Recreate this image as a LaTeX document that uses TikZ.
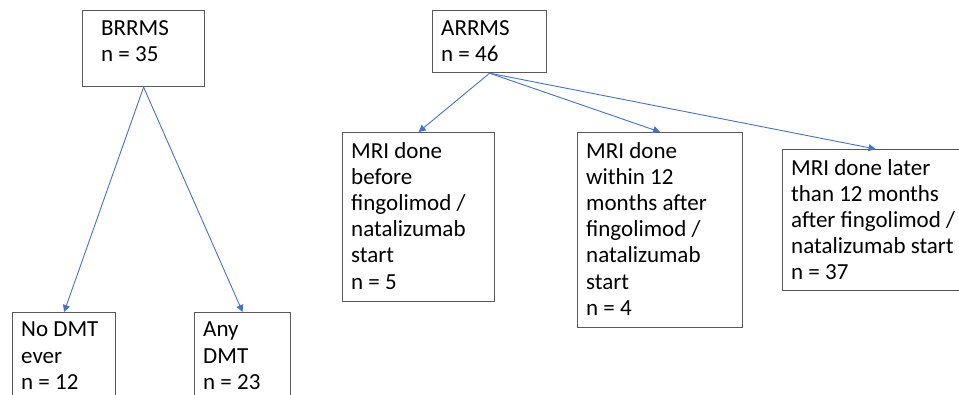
\documentclass[tikz,border=0pt]{standalone}
\usepackage{fontspec}
\setmainfont{Carlito}
\usetikzlibrary{arrows.meta}

\definecolor{arrowblue}{HTML}{4472C4}
\definecolor{boxgray}{HTML}{595959}

\begin{document}
\begin{tikzpicture}[x=1pt, y=-1pt,
		box/.style={draw=boxgray, line width=1.2pt, anchor=north west, inner sep=0pt},
		txt/.style={anchor=north west, align=left, inner xsep=9pt, inner ysep=10pt,
			font=\fontsize{23}{26.2}\selectfont},
		link/.style={draw=arrowblue, line width=0.9pt, -{Triangle[length=7pt, width=7pt]}}]
		\useasboundingbox (0, 0) rectangle (959, 395);

		\node[box, minimum width=122pt, minimum height=76pt,
			label={[txt, inner xsep=19pt]north west:{BRRMS\\n = 35}}] (brrms) at (82, 10) {};
		\node[box, minimum width=103pt, minimum height=100pt,
			label={[txt]north west:{No DMT\\ever\\n = 12}}] (nodmt) at (12, 312) {};
		\node[box, minimum width=96pt, minimum height=100pt,
			label={[txt]north west:{Any\\DMT\\n = 23}}] (anydmt) at (194, 312) {};

		\node[box, minimum width=114pt, minimum height=62pt,
			label={[txt]north west:{ARRMS\\n = 46}}] (arrms) at (432, 10) {};
		\node[box, minimum width=152pt, minimum height=169pt,
			label={[txt]north west:{MRI done\\before\\fingolimod /\\natalizumab\\start\\n = 5}}] (before) at (342, 132) {};
		\node[box, minimum width=165pt, minimum height=195pt,
			label={[txt]north west:{MRI done\\within 12\\months after\\fingolimod /\\natalizumab\\start\\n = 4}}] (within) at (577, 132) {};
		\node[box, minimum width=186pt, minimum height=141pt,
			label={[txt]north west:{MRI done later\\than 12 months\\after fingolimod /\\natalizumab start\\n = 37}}] (later) at (782, 149) {};

		\draw[link] (brrms.south) -- (nodmt.north);
		\draw[link] (brrms.south) -- (anydmt.north);

		\draw[link] (arrms.south) -- (before.north);
		\draw[link] (arrms.south) -- (within.north);
		\draw[link] (arrms.south) -- (later.north);
	\end{tikzpicture}
\end{document}
